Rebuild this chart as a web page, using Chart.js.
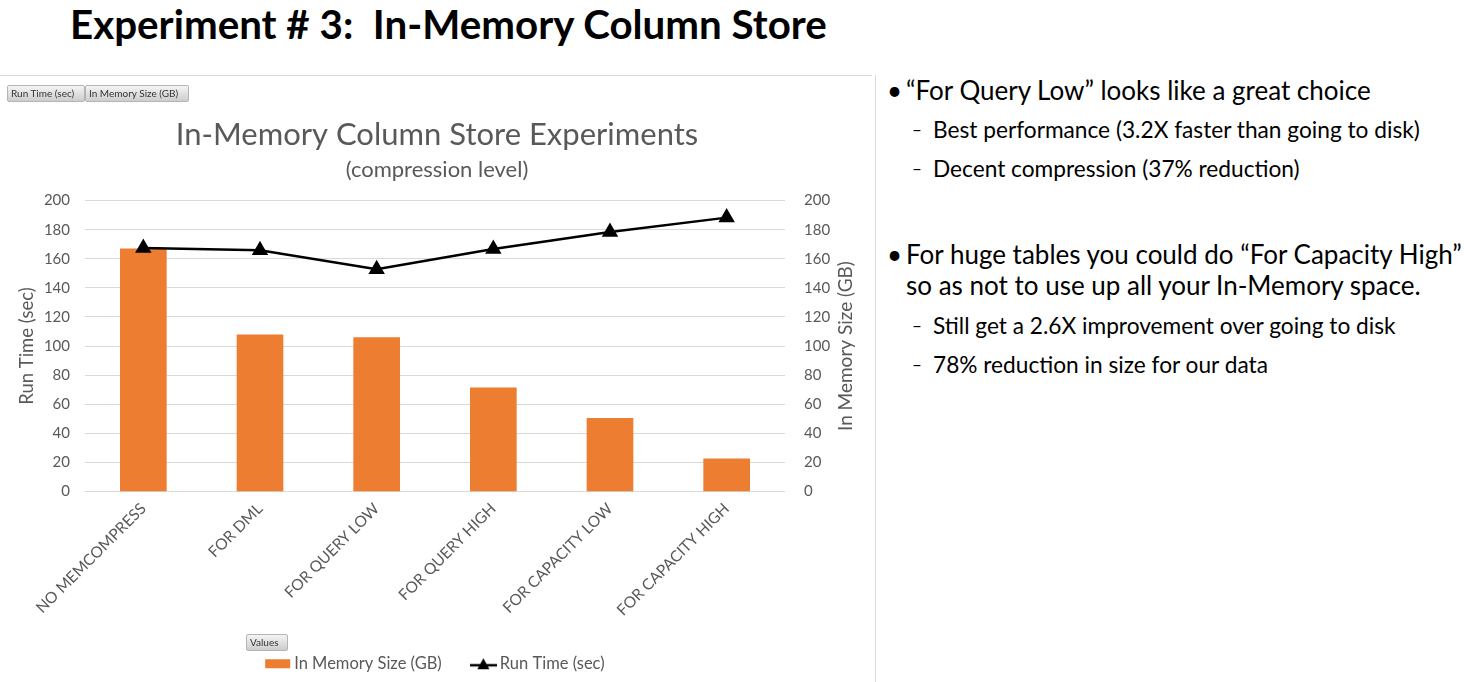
<!DOCTYPE html>
<html>
<head>
<meta charset="utf-8">
<script src="https://cdn.jsdelivr.net/npm/chart.js@4"></script>
<style>
  html, body { margin: 0; padding: 0; background: #fff; }
  body { width: 1464px; height: 682px; position: relative; overflow: hidden; font-family: Lato, "Open Sans", sans-serif; color: #000; }
  .abs { position: absolute; white-space: nowrap; }
  #title { left: 70px; top: 0px; font-size: 40.3px; line-height: 48px; font-weight: bold; }
  #panel-h { left: 0; top: 75px; width: 872px; height: 1px; background: #d9d9d9; }
  #panel-v { left: 875px; top: 75px; width: 1px; height: 607px; background: #d9d9d9; }
  #chartBox { left: 0; top: 76px; width: 874px; height: 606px; }
  .btn { position: absolute; height: 17px; line-height: 15px; font-size: 10px; color: #333; padding: 0 3px; box-sizing: border-box;
         background: linear-gradient(#f4f4f4, #cdcdcd); border: 1px solid #b5b5b5; border-radius: 2px; white-space: nowrap; }
  .b1 { font-size: 26px; line-height: 31px; }
  .b2 { font-size: 22.7px; line-height: 27px; }
  .dash { font-size: 17px; line-height: 27px; }
</style>
</head>
<body>
<div id="title" class="abs">Experiment # 3:&nbsp; In-Memory Column Store</div>
<div id="panel-h" class="abs"></div>
<div id="panel-v" class="abs"></div>
<div id="chartBox" class="abs"><canvas id="c" width="874" height="606"></canvas></div>
<div class="btn" style="left:7px;top:85px;width:78px;">Run Time (sec)</div>
<div class="btn" style="left:85px;top:85px;width:104px;">In Memory Size (GB)</div>
<div class="btn" style="left:246px;top:634px;width:42px;">Values</div>

<div class="abs b1" style="left:887px;top:75px;">•</div>
<div class="abs b1" style="left:906px;top:75px;">“For Query Low” looks like a great choice</div>
<div class="abs dash" style="left:912px;top:116px;">–</div>
<div class="abs b2" style="left:933px;top:116px;">Best performance (3.2X faster than going to disk)</div>
<div class="abs dash" style="left:912px;top:155px;">–</div>
<div class="abs b2" style="left:933px;top:155px;">Decent compression (37% reduction)</div>
<div class="abs b1" style="left:887px;top:239px;">•</div>
<div class="abs b1" style="left:906px;top:239px;">For huge tables you could do “For Capacity High”</div>
<div class="abs b1" style="left:906px;top:270px;">so as not to use up all your In-Memory space.</div>
<div class="abs dash" style="left:912px;top:312px;">–</div>
<div class="abs b2" style="left:933px;top:312px;">Still get a 2.6X improvement over going to disk</div>
<div class="abs dash" style="left:912px;top:351px;">–</div>
<div class="abs b2" style="left:933px;top:351px;">78% reduction in size for our data</div>

<script>
const categories = ["NO MEMCOMPRESS", "FOR DML", "FOR QUERY LOW", "FOR QUERY HIGH", "FOR CAPACITY LOW", "FOR CAPACITY HIGH"];
const memorySizeGB = [167, 108, 106, 71.5, 50.6, 22.7];
const runTimeSec = [167.4, 165.8, 152.8, 166.7, 178.4, 188.3];
const yTicks = [0, 20, 40, 60, 80, 100, 120, 140, 160, 180, 200];

const FONT = 'Lato, "Open Sans", sans-serif';
const GRAY = '#595959';
const ORANGE = '#ED7D31';

function makeIcon(kind) {
  const cv = document.createElement('canvas');
  cv.width = 27; cv.height = 13;
  const g = cv.getContext('2d');
  if (kind === 'bar') {
    g.fillStyle = ORANGE; g.fillRect(1, 2, 25, 9);
  } else {
    g.strokeStyle = '#000'; g.lineWidth = 2.5;
    g.beginPath(); g.moveTo(0, 8); g.lineTo(27, 8); g.stroke();
    g.fillStyle = '#000';
    g.beginPath(); g.moveTo(13.5, 1); g.lineTo(19.5, 12); g.lineTo(7.5, 12); g.closePath(); g.fill();
  }
  return cv;
}
const barIcon = makeIcon('bar');
const lineIcon = makeIcon('line');

const rightTitlePlugin = {
  id: 'rightTitle',
  afterDraw(chart) {
    const s = chart.scales.y1;
    const ctx = chart.ctx;
    ctx.save();
    ctx.translate(846, (s.top + s.bottom) / 2);
    ctx.rotate(-Math.PI / 2);
    ctx.font = '19px ' + FONT;
    ctx.fillStyle = GRAY;
    ctx.textAlign = 'center';
    ctx.textBaseline = 'middle';
    ctx.fillText('In Memory Size (GB)', 0, 0);
    ctx.restore();
  }
};

new Chart(document.getElementById('c'), {
  data: {
    labels: categories,
    datasets: [
      {
        type: 'line', label: 'Run Time (sec)', data: runTimeSec, yAxisID: 'y', order: 0,
        borderColor: '#000', borderWidth: 2.5, backgroundColor: '#000',
        pointStyle: 'triangle', pointRadius: 7, pointBackgroundColor: '#000', pointBorderColor: '#000',
        tension: 0
      },
      {
        type: 'bar', label: 'In Memory Size (GB)', data: memorySizeGB, yAxisID: 'y1', order: 1,
        backgroundColor: ORANGE, categoryPercentage: 1.0, barPercentage: 0.4
      }
    ]
  },
  options: {
    responsive: false, animation: false,
    layout: { padding: { top: 40, bottom: 0, left: 0, right: 0 } },
    plugins: {
      tooltip: { enabled: false },
      title: { display: true, text: 'In-Memory Column Store Experiments', color: GRAY,
               font: { family: FONT, size: 31, weight: 'normal' }, padding: { top: 0, bottom: 4 } },
      subtitle: { display: true, text: '(compression level)', color: GRAY,
               font: { family: FONT, size: 22, weight: 'normal' }, padding: { top: 0, bottom: 17 } },
      legend: {
        position: 'bottom',
        labels: {
          usePointStyle: true, color: GRAY, font: { family: FONT, size: 16.5 }, padding: 8,
          generateLabels(chart) {
            return [
              { text: 'In Memory Size (GB)      ', pointStyle: barIcon, fontColor: GRAY, datasetIndex: 1, hidden: false, lineWidth: 0 },
              { text: 'Run Time (sec)', pointStyle: lineIcon, fontColor: GRAY, datasetIndex: 0, hidden: false, lineWidth: 0 }
            ];
          }
        }
      }
    },
    scales: {
      x: {
        grid: { display: false, drawTicks: false },
        border: { display: false },
        ticks: { color: GRAY, font: { family: FONT, size: 15.5 }, minRotation: 45, maxRotation: 45, padding: 8 },
        afterFit(s) { s.height = 156; }
      },
      y: {
        position: 'left', min: 0, max: 200,
        afterBuildTicks(s) { s.ticks = yTicks.map(v => ({ value: v })); },
        grid: { color: '#d9d9d9', lineWidth: 1, drawTicks: false },
        border: { display: false },
        ticks: { color: GRAY, font: { family: FONT, size: 15 }, padding: 15 },
        title: { display: true, text: 'Run Time (sec)', color: GRAY, font: { family: FONT, size: 18.5 }, padding: { top: 16, bottom: 0 } },
        afterFit(s) { s.width = 85; }
      },
      y1: {
        position: 'right', min: 0, max: 200,
        afterBuildTicks(s) { s.ticks = yTicks.map(v => ({ value: v })); },
        grid: { display: false, drawTicks: false },
        border: { display: false },
        ticks: { color: GRAY, font: { family: FONT, size: 15 }, padding: 19 },
        afterFit(s) { s.width = 89; }
      }
    }
  },
  plugins: [rightTitlePlugin]
});
</script>
</body>
</html>
